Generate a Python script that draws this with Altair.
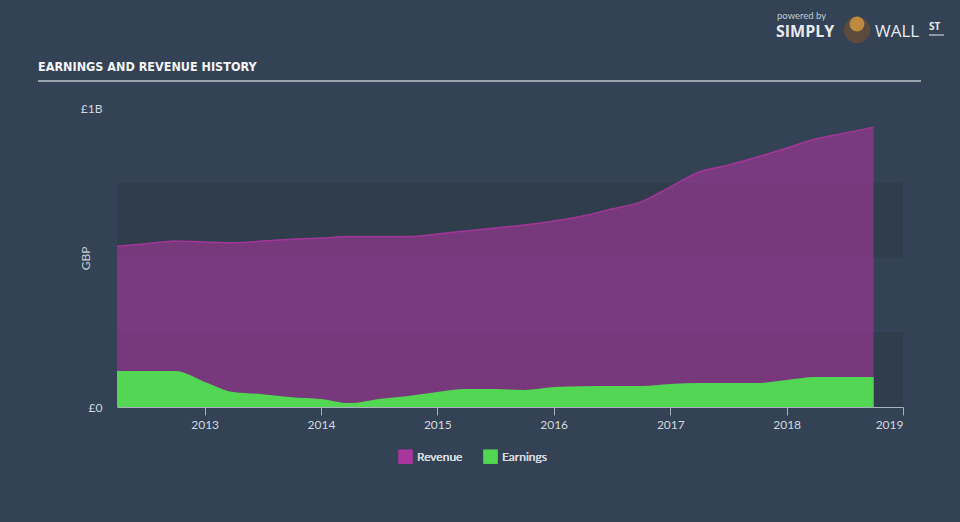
import altair as alt
import pandas as pd

# ---- data ----
dates = [
    "2012-04-01", "2012-07-01", "2012-10-01", "2013-01-01", "2013-04-01", "2013-07-01",
    "2013-10-01", "2014-01-01", "2014-04-01", "2014-07-01", "2014-10-01", "2015-01-01",
    "2015-04-01", "2015-07-01", "2015-10-01", "2016-01-01", "2016-04-01", "2016-07-01",
    "2016-10-01", "2017-01-01", "2017-04-01", "2017-07-01", "2017-10-01", "2018-01-01",
    "2018-04-01", "2018-07-01", "2018-10-01",
]
revenue = [
    538e6, 546e6, 555e6, 552e6, 549e6, 555e6, 561e6, 565e6, 570e6, 570e6, 570e6, 579e6,
    589e6, 599e6, 609e6, 622e6, 639e6, 662e6, 686e6, 736e6, 786e6, 809e6, 836e6, 866e6,
    896e6, 916e6, 936e6,
]
earnings = [
    120e6, 120e6, 120e6, 84e6, 50e6, 43e6, 33e6, 27e6, 13e6, 27e6, 37e6, 50e6,
    60e6, 60e6, 57e6, 67e6, 69e6, 70e6, 70e6, 77e6, 80e6, 80e6, 80e6, 90e6,
    100e6, 100e6, 100e6,
]
series_names = ["Revenue", "Earnings"]
series_colors = ["#a8369c", "#52d654"]
band_lo = [0, 250e6, 500e6]
band_hi = [250e6, 500e6, 750e6]
band_col = ["#2f3d4c", "#334254", "#2f3d4c"]
x_ticks = ["2013-01-01", "2014-01-01", "2015-01-01", "2016-01-01", "2017-01-01", "2018-01-01", "2019-01-01"]

df = pd.DataFrame(
    {"date": dates * 2,
     "value": revenue + earnings,
     "series": ["Revenue"] * len(dates) + ["Earnings"] * len(dates)}
)
bands = pd.DataFrame({"lo": band_lo, "hi": band_hi, "col": band_col})

W, H = 786, 299
BG = "#344255"
FONT = "Lato"

xscale = alt.Scale(domain=["2012-04-01", "2019-01-01"])
yscale = alt.Scale(domain=[0, 1e9], nice=False)
cscale = alt.Scale(domain=series_names, range=series_colors)

band_layer = alt.Chart(bands).mark_rect().encode(
    x=alt.value(0), x2=alt.value(W),
    y=alt.Y("lo:Q", scale=yscale), y2="hi:Q",
    color=alt.Color("col:N", scale=None, legend=None),
)

base = alt.Chart(df).encode(
    x=alt.X("date:T", scale=xscale,
            axis=alt.Axis(title=None, values=x_ticks, format="%Y", grid=False,
                          domainColor="#a9b1bb", tickColor="#a9b1bb", tickSize=8,
                          labelColor="#d3d8dd", labelFontSize=12, labelFont=FONT,
                          labelPadding=4, domainWidth=1.2)),
    y=alt.Y("value:Q", scale=yscale,
            axis=alt.Axis(title="GBP", values=[0, 1e9], grid=False, domain=False, ticks=False,
                          labelExpr="datum.value == 0 ? '£0' : '£1B'",
                          labelColor="#d3d8dd", labelFontSize=12, labelFont=FONT,
                          labelPadding=15, titleColor="#c9ced4", titleFont=FONT,
                          titleFontSize=12, titleFontWeight="normal",
                          titleX=-32, titleY=150, titleAlign="center", titleBaseline="middle",
                          titleAngle=270)),
    color=alt.Color("series:N", scale=cscale, sort=series_names,
                    legend=alt.Legend(title=None, orient="none", direction="horizontal",
                                      legendX=281, legendY=341, symbolType="square",
                                      symbolSize=200, symbolOpacity=1, symbolStrokeWidth=0,
                                      labelColor="#d3d8dd", labelFont=FONT, labelFontSize=12,
                                      columnPadding=20)),
)

rev_area = base.transform_filter("datum.series == 'Revenue'").mark_area(
    interpolate="monotone", fillOpacity=0.6)
rev_line = base.transform_filter("datum.series == 'Revenue'").mark_line(
    interpolate="monotone", strokeWidth=1.5, opacity=0.9)
earn_area = base.transform_filter("datum.series == 'Earnings'").mark_area(
    interpolate="monotone", opacity=1)

title_text = alt.Chart(pd.DataFrame({"t": ["EARNINGS AND REVENUE HISTORY"]})).mark_text(
    align="left", baseline="middle", font="DejaVu Sans Condensed",
    fontWeight="bold", fontSize=12.5, color="#f2f4f6"
).encode(text="t:N", x=alt.value(-79), y=alt.value(-41))

title_rule = alt.Chart(pd.DataFrame({"a": [0]})).mark_rule(
    color="#9aa3ad", strokeWidth=2
).encode(x=alt.value(-79), x2=alt.value(804), y=alt.value(-27))

logo_df = pd.DataFrame({"t": ["x"]})
powered = alt.Chart(logo_df).mark_text(
    align="left", baseline="middle", font=FONT, fontSize=9.5, color="#c3c9cf", text="powered by"
).encode(x=alt.value(660), y=alt.value(-92.5))
simply = alt.Chart(logo_df).mark_text(
    align="left", baseline="middle", font="Open Sans", fontWeight="bold", fontSize=16,
    color="#e6e9ec", text="SIMPLY"
).encode(x=alt.value(659), y=alt.value(-76))
bull = alt.Chart(logo_df).mark_point(
    filled=True, shape="circle", size=700, color="#5b4a3e", opacity=1
).encode(x=alt.value(740), y=alt.value(-78))
bull_face = alt.Chart(logo_df).mark_point(
    filled=True, shape="circle", size=220, color="#c08a3e", opacity=1
).encode(x=alt.value(740), y=alt.value(-84))
wall = alt.Chart(logo_df).mark_text(
    align="left", baseline="middle", font="Open Sans", fontSize=17,
    color="#e6e9ec", text="WALL"
).encode(x=alt.value(758), y=alt.value(-76))
st = alt.Chart(logo_df).mark_text(
    align="left", baseline="middle", font="Open Sans", fontWeight="bold", fontSize=10,
    color="#e6e9ec", text="ST"
).encode(x=alt.value(812), y=alt.value(-81))
st_rule = alt.Chart(logo_df).mark_rule(color="#e6e9ec", strokeWidth=1).encode(
    x=alt.value(812), x2=alt.value(827), y=alt.value(-73))

chart = alt.layer(
    band_layer, rev_area, rev_line, earn_area,
    title_text, title_rule, powered, simply, bull, bull_face, wall, st, st_rule,
).resolve_scale(color="independent").properties(
    width=W, height=H,
    background=BG,
    padding={"left": 117, "top": 108, "right": 57, "bottom": 115},
    autosize=alt.AutoSizeParams(type="none"),
).configure_view(stroke=None)

chart.save("out.html", embed_options={"renderer": "svg", "actions": False})
